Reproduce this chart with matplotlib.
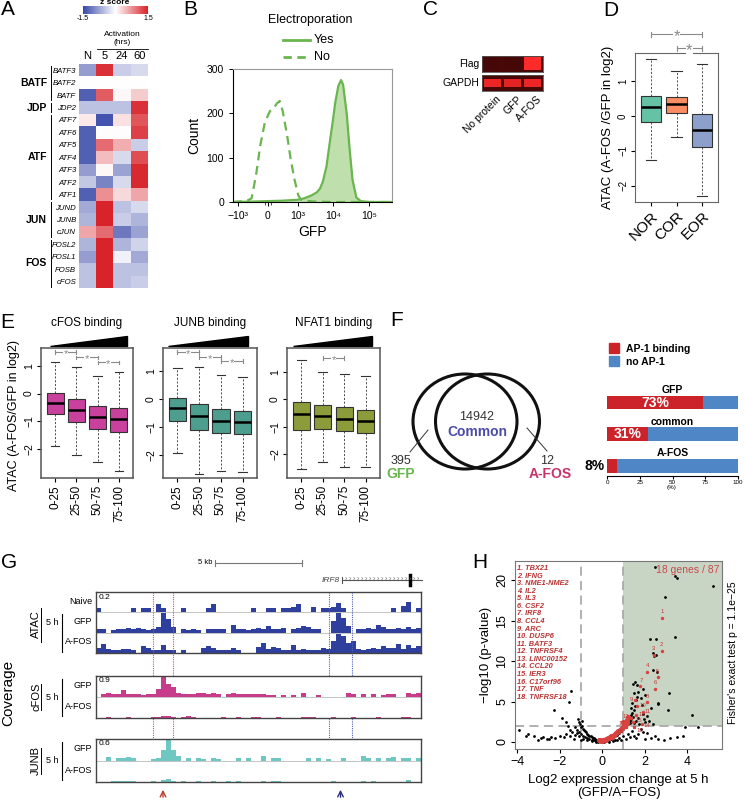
import numpy as np
import matplotlib
matplotlib.use('Agg')
import matplotlib.pyplot as plt
from matplotlib.colors import LinearSegmentedColormap
from matplotlib.lines import Line2D
from matplotlib.patches import Ellipse, Rectangle, Patch, Polygon
from matplotlib import transforms

plt.rcParams['font.family'] = ['Liberation Sans', 'DejaVu Sans']
plt.rcParams['axes.linewidth'] = 0.8

# ======================= DATA =======================
# A: heatmap of z scores
a_genes = ['BATF3', 'BATF2', 'BATF', 'JDP2', 'ATF7', 'ATF6', 'ATF5', 'ATF4', 'ATF3',
           'ATF2', 'ATF1', 'JUND', 'JUNB', 'cJUN', 'FOSL2', 'FOSL1', 'FOSB', 'cFOS']
a_groups = ['BATF', 'JDP', 'ATF', 'JUN', 'FOS']
a_group_sizes = [3, 1, 7, 3, 4]
a_times = ['N', '5', '24', '60']
a_z = [[-0.8, 1.4, -0.4, -0.3],
       [0.0, 0.0, 0.0, 0.0],
       [-1.3, 1.1, 0.05, 0.35],
       [-0.5, -0.5, -0.5, 1.4],
       [0.15, -1.4, 0.2, 1.15],
       [-1.3, 0.02, 0.02, 1.3],
       [-1.3, 1.0, 0.55, -0.4],
       [-1.3, 0.45, -0.3, 1.2],
       [-0.8, 0.05, -0.75, 1.45],
       [-0.45, -1.0, -0.3, 1.45],
       [-1.3, 0.75, 0.25, 0.6],
       [-0.7, 1.5, -0.5, -0.3],
       [-0.6, 1.5, -0.4, -0.6],
       [0.6, 1.0, -1.1, -0.75],
       [-0.6, 1.5, -0.6, -0.35],
       [-0.8, 1.5, -0.1, -0.7],
       [-0.5, 1.5, -0.5, -0.5],
       [-0.5, 1.5, -0.5, -0.4]]

# B: flow histogram
b_no_x = [-1400, -1000, -700, -550, -400, -250, -100, 70, 200, 300, 400, 500, 650, 760,
          900, 1050, 1250, 1600, 3000, 10000, 450000]
b_no_y = [0, 1, 3, 8, 60, 130, 180, 205, 212, 222, 228, 205, 150, 100, 50, 15, 5, 3, 1, 0, 0]
b_yes_x = [-1400, -500, 0, 500, 1000, 1500, 2500, 3500, 4250, 5100, 6500, 7900, 9500,
           11500, 14000, 16700, 19000, 24000, 29000, 35000, 45000, 60000, 100000, 450000]
b_yes_y = [0, 1, 2, 3, 5, 8, 15, 22, 30, 45, 80, 130, 175, 225, 262, 275, 265, 200, 120,
           50, 10, 2, 0, 0]

# C: western blot intensities
c_lanes = ['No protein', 'GFP', 'A-FOS']
c_flag = [0.06, 0.06, 1.0]
c_gapdh = [0.9, 0.85, 0.9]

# D: boxplot stats
d_groups = ['NOR', 'COR', 'EOR']
d_lo = [-1.27, -0.6, -2.3]
d_q1 = [-0.17, 0.09, -0.89]
d_med = [0.26, 0.33, -0.41]
d_q3 = [0.57, 0.55, 0.05]
d_hi = [1.63, 1.28, 1.48]
d_colors = ['#66c2a5', '#fc8d62', '#8da0cb']

# E: boxplot stats for three binding panels
e_bins = ['0-25', '25-50', '50-75', '75-100']
e_titles = ['cFOS binding', 'JUNB binding', 'NFAT1 binding']
e_cfos_lo = [-1.9, -2.22, -2.46, -2.8]
e_cfos_q1 = [-0.75, -1.02, -1.26, -1.38]
e_cfos_med = [-0.35, -0.58, -0.85, -0.9]
e_cfos_q3 = [0.01, -0.19, -0.46, -0.52]
e_cfos_hi = [1.15, 0.95, 0.64, 0.76]
e_junb_lo = [-1.92, -2.67, -2.57, -2.62]
e_junb_q1 = [-0.77, -1.11, -1.2, -1.25]
e_junb_med = [-0.33, -0.61, -0.77, -0.81]
e_junb_q3 = [0.02, -0.18, -0.37, -0.43]
e_junb_hi = [1.12, 1.14, 0.85, 0.77]
e_nfat_lo = [-2.52, -2.29, -2.46, -2.45]
e_nfat_q1 = [-1.1, -1.08, -1.17, -1.23]
e_nfat_med = [-0.54, -0.6, -0.72, -0.78]
e_nfat_q3 = [-0.1, -0.21, -0.3, -0.39]
e_nfat_hi = [1.42, 1.0, 0.93, 0.85]

# F: venn counts and AP-1 fractions
f_gfp_only = 395
f_common = 14942
f_afos_only = 12
f_sets = ['GFP', 'common', 'A-FOS']
f_ap1 = [73, 31, 8]
f_noap1 = [27, 69, 92]

# G: coverage tracks (65 bins across the locus)
g_atac_naive = [0.04, 0, 0, 0, 0, 0, 0, 0.04, 0, 0.04,
                0.04, 0, 0.09, 0.05, 0, 0, 0, 0.04, 0, 0,
                0, 0, 0.05, 0.09, 0, 0, 0, 0, 0, 0,
                0, 0.04, 0, 0, 0.04, 0.04, 0, 0.04, 0.04, 0.06,
                0.09, 0, 0, 0.06, 0, 0.05, 0.04, 0.06, 0.10, 0.05,
                0, 0, 0, 0, 0, 0, 0, 0, 0, 0.04,
                0, 0.07, 0.11, 0, 0.04]
g_atac_gfp = [0.04, 0.04, 0, 0.03, 0.04, 0.04, 0.05, 0.04, 0.05, 0.04,
              0.03, 0.04, 0.06, 0.20, 0.14, 0.06, 0, 0.04, 0.03, 0.04,
              0.03, 0, 0.04, 0.04, 0.04, 0.04, 0, 0.08, 0.04, 0.04,
              0.03, 0.04, 0.05, 0.04, 0.07, 0.04, 0.04, 0.05, 0, 0.04,
              0.05, 0.07, 0.06, 0.04, 0.04, 0, 0, 0.12, 0.20, 0.15,
              0.07, 0, 0.04, 0.04, 0.05, 0.04, 0.08, 0.06, 0.04, 0.04,
              0.05, 0.04, 0.06, 0.04, 0.05]
g_atac_afos = [0.05, 0.09, 0.04, 0.03, 0.03, 0.04, 0.04, 0.03, 0, 0.07,
               0.05, 0.03, 0.03, 0.08, 0.03, 0.03, 0, 0.03, 0, 0,
               0, 0.05, 0.07, 0.05, 0.03, 0.03, 0.03, 0.05, 0.03, 0,
               0, 0, 0.06, 0.10, 0.04, 0.06, 0.05, 0.03, 0.03, 0.08,
               0.03, 0.04, 0.03, 0.03, 0.03, 0.05, 0.04, 0.12, 0.20, 0.18,
               0.10, 0.12, 0.04, 0.03, 0.04, 0.05, 0.04, 0.07, 0.05, 0.05,
               0.09, 0.04, 0.08, 0.05, 0.07]
g_cfos_gfp = [0, 0.12, 0.18, 0.12, 0.12, 0.30, 0.15, 0.12, 0.12, 0.10,
              0.12, 0.15, 0.35, 0.90, 0.60, 0.45, 0.20, 0.13, 0.13, 0.15,
              0.18, 0.20, 0.15, 0.20, 0.15, 0, 0.12, 0.18, 0.12, 0.12,
              0.12, 0.12, 0.12, 0.12, 0.10, 0.10, 0, 0.10, 0, 0.10,
              0, 0.20, 0, 0, 0.10, 0, 0, 0, 0, 0,
              0.18, 0.15, 0, 0.12, 0, 0.12, 0, 0.10, 0.15, 0.12,
              0, 0, 0.20, 0.15, 0.20]
g_cfos_afos = {2: 0.05, 6: 0.05, 11: 0.05, 12: 0.06, 13: 0.10, 14: 0.09, 15: 0.06,
               17: 0.06, 18: 0.07, 19: 0.05, 25: 0.04, 28: 0.05, 31: 0.05, 32: 0.04,
               36: 0.05, 41: 0.04, 42: 0.04, 43: 0.04, 47: 0.05, 51: 0.04, 56: 0.06,
               61: 0.04, 62: 0.04}
g_junb_gfp = {2: 0.10, 4: 0.06, 5: 0.06, 6: 0.10, 7: 0.06, 11: 0.05, 12: 0.07, 13: 0.30,
              14: 0.60, 15: 0.30, 16: 0.12, 18: 0.06, 20: 0.06, 21: 0.05, 23: 0.06,
              24: 0.05, 28: 0.06, 30: 0.06, 33: 0.12, 35: 0.06, 36: 0.06, 42: 0.06,
              44: 0.06, 46: 0.05, 49: 0.06, 53: 0.12, 54: 0.07, 56: 0.06, 58: 0.06,
              59: 0.10, 61: 0.06, 62: 0.06, 64: 0.06}
g_junb_afos = {3: 0.03, 4: 0.03, 5: 0.03, 6: 0.03, 7: 0.03, 11: 0.03, 13: 0.05, 14: 0.10,
               15: 0.04, 17: 0.03, 20: 0.03, 23: 0.03, 26: 0.03, 28: 0.03, 33: 0.03,
               35: 0.03, 36: 0.03, 47: 0.03, 53: 0.03, 55: 0.03, 62: 0.05}
g_scales = [0.2, 0.9, 0.6]
g_red_region = [11.4, 15.4]
g_blue_region = [46.6, 51.2]

# H: volcano
h_black = [(2.48, 21.6), (3.42, 20.5), (3.5, 20.3), (5.23, 19.3), (2.95, 17.9),
           (3.44, 13.0), (2.24, 12.8), (2.53, 12.8), (2.37, 11.0), (2.53, 10.8),
           (2.45, 10.6), (2.56, 8.6), (2.38, 8.9), (3.14, 6.1), (2.6, 4.8), (2.63, 4.7),
           (3.08, 4.0), (4.2, 3.3), (4.52, 1.9), (3.9, 1.85), (-1.49, 6.35), (-1.55, 5.0),
           (-2.28, 3.9),
           (-0.1, 0.1), (-0.2, 0.15), (-0.3, 0.3), (-0.4, 0.45), (-0.5, 0.6), (-0.6, 0.8),
           (-0.7, 1.0), (-0.8, 1.3), (-0.9, 1.6), (-1.0, 1.9), (-1.05, 2.2), (-1.1, 2.5),
           (-0.95, 2.0), (-0.85, 1.5), (-0.75, 1.2), (-0.65, 0.9), (-0.55, 0.7),
           (-0.45, 0.5), (-0.35, 0.35), (-0.25, 0.2), (-0.2, 0.05), (-0.3, 0.1),
           (-0.4, 0.2), (-0.5, 0.3), (-0.6, 0.4), (-0.7, 0.5), (-0.8, 0.6), (-0.9, 0.8),
           (-1.0, 1.0), (-1.1, 1.2), (-1.2, 1.5), (-1.3, 1.8), (-1.2, 1.1), (-1.3, 0.9),
           (-1.4, 1.2), (-1.5, 1.5), (-1.6, 2.0), (-1.7, 2.5), (-1.9, 3.0), (-1.1, 0.7),
           (-0.9, 0.4), (-0.7, 0.25), (-0.5, 0.15), (-0.3, 0.05), (-1.5, 0.8),
           (-1.7, 1.0), (-2.0, 0.7), (-2.2, 0.5), (-2.4, 0.6), (-2.6, 0.4), (-2.8, 0.6),
           (-3.0, 0.3), (-3.2, 0.7), (-3.5, 1.0), (-3.6, 0.8), (-3.9, 1.5), (-2.9, 0.5),
           (-2.5, 0.4), (-1.8, 0.6), (-1.35, 0.4), (-1.0, 0.3), (-1.15, 2.8), (-0.95, 2.6),
           (0.1, 0.05), (0.2, 0.1), (0.3, 0.2), (0.4, 0.35), (0.5, 0.5), (0.6, 0.7),
           (0.7, 0.9), (0.8, 1.1), (0.9, 1.35), (1.0, 1.6), (1.1, 1.9), (1.2, 2.2),
           (1.3, 2.6), (1.25, 3.0), (1.35, 3.3), (1.2, 2.8), (1.4, 3.6), (0.3, 0.05),
           (0.5, 0.1), (0.7, 0.2), (0.9, 0.3), (1.1, 0.4), (1.3, 0.6), (1.5, 0.8),
           (1.7, 1.0), (1.9, 1.2), (2.1, 1.1), (1.6, 0.5), (2.0, 0.4), (2.3, 0.5),
           (2.6, 0.4), (2.9, 0.3), (3.2, 0.5), (3.5, 0.6), (3.8, 0.7), (2.5, 0.8),
           (1.8, 1.6), (1.5, 1.9), (1.4, 1.3), (1.2, 1.0), (1.0, 0.7), (0.8, 0.5),
           (0.6, 0.3), (1.3, 2.3), (1.35, 2.8), (1.45, 3.1), (1.5, 3.9), (1.55, 4.4),
           (1.6, 5.2), (1.65, 5.6), (1.5, 6.0), (1.45, 7.2), (1.55, 7.4), (1.62, 7.0),
           (1.7, 6.2), (1.8, 5.4), (1.85, 4.6), (1.9, 3.5), (1.95, 2.9), (2.0, 2.5),
           (1.75, 2.2), (1.6, 2.6), (1.4, 4.8), (1.35, 4.2), (2.1, 3.2), (2.2, 2.6),
           (2.3, 4.2), (1.7, 3.0), (1.5, 2.4), (2.4, 2.2), (2.0, 5.8), (1.9, 6.6)]
h_red = [(0.0, 0.1), (0.05, 0.2), (0.1, 0.25), (0.15, 0.3), (0.2, 0.4), (0.3, 0.5),
         (0.35, 0.6), (0.4, 0.7), (0.5, 0.8), (0.55, 0.9), (0.6, 1.0), (0.7, 1.2),
         (0.75, 1.3), (0.8, 1.4), (0.9, 1.6), (0.95, 1.7), (1.0, 1.9), (1.05, 2.0),
         (1.1, 2.2), (1.0, 2.5), (1.15, 2.7), (1.2, 3.1), (-0.05, 0.15), (-0.1, 0.2),
         (-0.15, 0.3), (0.25, 0.45), (0.45, 0.65), (0.65, 1.05), (0.85, 1.45)]
h_num_x = [2.83, 2.8, 2.45, 2.12, 2.6, 2.5, 1.77, 2.12, 1.55, 1.65, 1.9, 1.6, 1.35,
           1.85, 1.45, 1.5, 1.2, 1.1]
h_num_y = [15.4, 11.3, 10.8, 8.7, 8.0, 6.6, 6.9, 4.9, 5.2, 4.5, 3.7, 3.4, 3.0, 2.2,
           2.5, 1.8, 2.4, 1.9]
h_genes = ['TBX21', 'IFNG', 'NME1-NME2', 'IL2', 'IL3', 'CSF2', 'IRF8', 'CCL4', 'ARC',
           'DUSP6', 'BATF3', 'TNFRSF4', 'LINC00152', 'CCL20', 'IER3', 'C17orf96', 'TNF',
           'TNFRSF18']

# ======================= FIGURE =======================
W, H = 744, 800
fig = plt.figure(figsize=(7.44, 8.0), dpi=100)
fig.patch.set_facecolor('white')


def pax(x0, y0, x1, y1):
    return fig.add_axes([x0 / W, 1 - y1 / H, (x1 - x0) / W, (y1 - y0) / H])


def ftext(x, y, s, **kw):
    return fig.text(x / W, 1 - y / H, s, **kw)


def fline(xs, ys, **kw):
    fig.add_artist(Line2D([x / W for x in xs], [1 - y / H for y in ys], **kw))


def sig(ax, x1, x2, y, tick, size, color='#8a8a8a', dy=0.0):
    ax.plot([x1, x2], [y, y], color=color, lw=0.8, clip_on=False)
    ax.plot([x1, x1], [y - tick, y + tick], color=color, lw=0.8, clip_on=False)
    ax.plot([x2, x2], [y - tick, y + tick], color=color, lw=0.8, clip_on=False)
    ax.text((x1 + x2) / 2, y + dy, '*', ha='center', va='center', size=size, color=color,
            bbox=dict(fc='white', ec='none', pad=0.2), clip_on=False)


def boxes(ax, lo, q1, med, q3, hi, color):
    n = len(med)
    stats = [dict(whislo=lo[i], q1=q1[i], med=med[i], q3=q3[i], whishi=hi[i], label='')
             for i in range(n)]
    res = ax.bxp(stats, positions=list(range(1, n + 1)), widths=0.8, patch_artist=True,
                 showfliers=False,
                 boxprops=dict(facecolor=color, edgecolor='#333333', linewidth=0.8),
                 medianprops=dict(color='black', linewidth=1.8),
                 whiskerprops=dict(color='#333333', linewidth=0.6, linestyle=(0, (2.5, 2))),
                 capprops=dict(color='#333333', linewidth=0.8), capwidths=0.4)
    return res


LET = dict(size=15, va='top', ha='left')

# ---------------- Panel A ----------------
ftext(1, 0, 'A', **LET)
cmapA = LinearSegmentedColormap.from_list('zs', ['#3848a8', '#ffffff', '#d8232a'])
axA = pax(79, 64, 148, 288)
imA = axA.imshow(np.array(a_z), cmap=cmapA, vmin=-1.5, vmax=1.5, aspect='auto',
                 interpolation='nearest')
axA.set_xticks(range(len(a_times)))
axA.set_xticklabels(a_times, fontsize=8)
axA.xaxis.tick_top()
axA.set_yticks(range(len(a_genes)))
axA.set_yticklabels(a_genes, fontsize=5.6, style='italic')
axA.tick_params(length=0, pad=2)
for s in axA.spines.values():
    s.set_visible(False)
row_h = (288 - 64) / len(a_genes)
start = 0
for g, n in zip(a_groups, a_group_sizes):
    y0 = 64 + start * row_h + 1.5
    y1 = 64 + (start + n) * row_h - 1.5
    fline([51, 51], [y0, y1], color='black', lw=0.7)
    ftext(47, (y0 + y1) / 2, g, ha='right', va='center', size=7.5, weight='bold')
    start += n
caxA = pax(83, 6, 148, 14)
cb = fig.colorbar(imA, cax=caxA, orientation='horizontal')
cb.set_ticks([-1.5, 1.5])
cb.set_ticklabels(['-1.5', '1.5'])
cb.ax.tick_params(labelsize=5, length=0, pad=1)
cb.outline.set_visible(False)
ftext(115, -1, 'z score', ha='center', va='top', size=6, weight='bold')
ftext(122, 34, 'Activation', ha='center', va='center', size=6)
ftext(122, 43, '(hrs)', ha='center', va='center', size=6)
fline([97, 148], [49, 49], color='black', lw=0.6)

# ---------------- Panel B ----------------
ftext(183, 0, 'B', **LET)
green = '#6ab54f'
axB = pax(233, 69, 392, 202)
axB.set_xscale('symlog', linthresh=1000, linscale=0.75)
axB.fill_between(b_yes_x, b_yes_y, color='#bfe0ad', lw=0)
axB.plot(b_yes_x, b_yes_y, color=green, lw=1.6)
axB.plot(b_no_x, b_no_y, color=green, lw=1.6, ls=(0, (4, 2.5)))
axB.set_xlim(-1400, 4.5e5)
axB.set_ylim(0, 300)
axB.set_yticks([0, 100, 200, 300])
axB.set_xticks([-1000, 0, 1000, 10000, 100000])
axB.set_xticklabels(['−10³', '0', '10³', '10⁴', '10⁵'])
axB.tick_params(labelsize=7.5, length=3, width=0.7)
axB.tick_params(which='minor', length=2, width=0.5)
for k in ['top', 'right']:
    axB.spines[k].set_color('#999999')
axB.set_ylabel('Count', fontsize=10, labelpad=4)
axB.set_xlabel('GFP', fontsize=10, labelpad=3)
ftext(268, 20, 'Electroporation', size=9, va='center')
fline([283, 310], [40, 40], color=green, lw=2.0)
ftext(314, 40, 'Yes', size=9, va='center')
fline([283, 310], [57, 57], color=green, lw=2.0, ls=(0, (3, 2)))
ftext(314, 57, 'No', size=9, va='center')

# ---------------- Panel C ----------------
ftext(423, 0, 'C', **LET)
cmapC = LinearSegmentedColormap.from_list('blot', ['#3a0505', '#ff2a2a'])
for (y0, y1), vals, name, bh in [((56, 72), c_flag, 'Flag', (0.12, 0.8)),
                                 ((75, 91), c_gapdh, 'GAPDH', (0.22, 0.56))]:
    axc = pax(482, y0, 543, y1)
    axc.set_facecolor(cmapC(0.08))
    axc.bar(range(3), [bh[1]] * 3, bottom=bh[0], width=0.82,
            color=[cmapC(v) for v in vals])
    axc.set_xlim(-0.5, 2.5)
    axc.set_ylim(0, 1)
    axc.set_xticks([])
    axc.set_yticks([])
    for s in axc.spines.values():
        s.set_color('#555555')
        s.set_linewidth(0.6)
    ftext(479, (y0 + y1) / 2, name, ha='right', va='center', size=7.5)
for i, lab in enumerate(c_lanes):
    ftext(496 + i * 20.5, 94, lab, ha='right', va='top', rotation=45,
          rotation_mode='anchor', size=7.5)

# ---------------- Panel D ----------------
ftext(603, 1, 'D', **LET)
axD = pax(635, 53, 718, 202)
resD = boxes(axD, d_lo, d_q1, d_med, d_q3, d_hi, 'white')
for p, c in zip(resD['boxes'], d_colors):
    p.set_facecolor(c)
axD.set_xlim(0.38, 3.62)
axD.set_ylim(-2.46, 1.8)
axD.set_yticks([-2, -1, 0, 1])
axD.set_yticklabels(['−2', '−1', '0', '1'], rotation=90, va='center')
axD.set_xticks([1, 2, 3])
axD.set_xticklabels(d_groups, rotation=45, ha='right', va='top', rotation_mode='anchor',
                    fontsize=11)
axD.tick_params(axis='y', labelsize=7, length=3, pad=2)
axD.tick_params(axis='x', length=3, pad=2)
for s in axD.spines.values():
    s.set_color('#666666')
axD.set_ylabel('ATAC (A-FOS /GFP in log2)', fontsize=9.5, labelpad=3)
sig(axD, 1, 3, 2.34, 0.07, 12, dy=-0.08)
sig(axD, 2, 3, 1.94, 0.07, 12, dy=-0.08)

# ---------------- Panel E ----------------
ftext(0, 313, 'E', **LET)
e_data = [(e_cfos_lo, e_cfos_q1, e_cfos_med, e_cfos_q3, e_cfos_hi),
          (e_junb_lo, e_junb_q1, e_junb_med, e_junb_q3, e_junb_hi),
          (e_nfat_lo, e_nfat_q1, e_nfat_med, e_nfat_q3, e_nfat_hi)]
e_colors = ['#c9419c', '#4d9e8f', '#8c9c3b']
e_xpos = [(41, 133), (163, 257), (287, 380)]
e_ylims = [(-3.04, 1.64), (-2.82, 1.82), (-2.86, 1.86)]
e_sig = [[(1, 2, 1.5), (2, 3, 1.3), (3, 4, 1.12)],
         [(1, 2, 1.68), (2, 3, 1.5), (3, 4, 1.36)],
         [(2, 3, 1.5)]]
e_tri = [(0.1, 0.935), (0.05, 0.9), (0.065, 0.914)]
for k in range(3):
    x0, x1 = e_xpos[k]
    ax = pax(x0, 348, x1, 478)
    lo, q1, med, q3, hi = e_data[k]
    boxes(ax, lo, q1, med, q3, hi, e_colors[k])
    ax.set_xlim(0.34, 4.66)
    ax.set_ylim(*e_ylims[k])
    ax.set_yticks([-2, -1, 0, 1])
    ax.set_yticklabels(['−2', '−1', '0', '1'], rotation=90, va='center')
    ax.set_xticks([1, 2, 3, 4])
    ax.set_xticklabels(e_bins, rotation=90, fontsize=8.5)
    ax.tick_params(axis='y', labelsize=7.5, length=3, pad=2)
    ax.tick_params(axis='x', length=3, pad=2)
    for s in ax.spines.values():
        s.set_color('#555555')
        s.set_linewidth(1.1)
    for (a, b, y) in e_sig[k]:
        sig(ax, a, b, y, 0.06, 8, dy=-0.07)
    t0, t1 = e_tri[k]
    ax.add_patch(Polygon([[t0, 1.012], [t1, 1.012], [t1, 1.09]], closed=True,
                         transform=ax.transAxes, clip_on=False, fc='black', ec='black'))
    ftext((x0 + x1) / 2, 323, e_titles[k], ha='center', va='center', size=8.5)
ftext(14, 415, 'ATAC (A-FOS/GFP in log2)', rotation=90, ha='center', va='center', size=9)

# ---------------- Panel F ----------------
ftext(390, 311, 'F', **LET)
axV = pax(385, 360, 575, 482)
axV.set_xlim(385, 575)
axV.set_ylim(482, 360)
axV.axis('off')
axV.add_patch(Ellipse((465, 421.5), 104, 95, fill=False, lw=2.2, ec='#111111'))
axV.add_patch(Ellipse((487.5, 421.5), 104, 95, fill=False, lw=2.2, ec='#111111'))
axV.text(477, 417, str(f_common), ha='center', va='center', size=9, color='#333333')
axV.text(477, 432, 'Common', ha='center', va='center', size=10, weight='bold',
         color='#4b4ba8')
axV.plot([428, 410], [430, 452], color='#333333', lw=0.7)
axV.plot([527, 547], [428, 451], color='#333333', lw=0.7)
axV.text(401, 461, str(f_gfp_only), ha='center', va='center', size=9, color='#333333')
axV.text(401, 474, 'GFP', ha='center', va='center', size=10, weight='bold', color='#6ab54f')
axV.text(547, 461, str(f_afos_only), ha='center', va='center', size=9, color='#333333')
axV.text(550, 474, 'A-FOS', ha='center', va='center', size=10, weight='bold',
         color='#c8336b')

red_f, blue_f = '#cc2229', '#4f86c6'
axF = pax(607, 385, 738, 476)
axF.barh(range(3), f_ap1, height=0.44, color=red_f)
axF.barh(range(3), f_noap1, left=f_ap1, height=0.44, color=blue_f)
axF.set_xlim(0, 100)
axF.set_ylim(2.33, -0.556)
axF.set_yticks([])
axF.set_xticks([0, 25, 50, 75, 100])
axF.tick_params(axis='x', labelsize=4.5, length=2, pad=1)
for k in ['top', 'right', 'left']:
    axF.spines[k].set_visible(False)
for i, name in enumerate(f_sets):
    axF.text(50, i - 0.39, name, ha='center', va='center', size=7.5, weight='bold')
    if f_ap1[i] > 20:
        axF.text(f_ap1[i] / 2, i, f'{f_ap1[i]}%', ha='center', va='center', size=10,
                 weight='bold', color='white')
    else:
        axF.text(-1.5, i, f'{f_ap1[i]}%', ha='right', va='center', size=10, weight='bold')
ftext(672, 488, '(%)', ha='center', va='center', size=4.5)
fig.legend(handles=[Patch(color=red_f), Patch(color=blue_f)],
           labels=['AP-1 binding', 'no AP-1'], loc='upper left',
           bbox_to_anchor=(609 / W, 1 - 343 / H), frameon=False,
           prop=dict(size=7.5, weight='bold'), handlelength=1.0, handleheight=1.1,
           handletextpad=0.6, labelspacing=0.25, borderpad=0, borderaxespad=0)

# ---------------- Panel G ----------------
ftext(1, 553, 'G', **LET)
nb = len(g_atac_naive)


def dense(v):
    arr = np.zeros(nb)
    if isinstance(v, dict):
        for k2, val in v.items():
            arr[k2] = val
    else:
        arr[:len(v)] = v
    return arr


g_specs = [((592, 653), [g_atac_naive, g_atac_gfp, g_atac_afos], '#2f3f9e', g_scales[0],
            ['Naive', 'GFP', 'A-FOS'], 'ATAC'),
           ((676, 718), [g_cfos_gfp, g_cfos_afos], '#c83c8c', g_scales[1],
            ['GFP', 'A-FOS'], 'cFOS'),
           ((739, 782), [g_junb_gfp, g_junb_afos], '#6fc7c2', g_scales[2],
            ['GFP', 'A-FOS'], 'JUNB')]
g_axes = []
for (y0, y1), tracks, col, scale, labels, name in g_specs:
    ax = pax(96, y0, 421, y1)
    g_axes.append(ax)
    nt = len(tracks)
    for j, tr in enumerate(tracks):
        off = nt - 1 - j
        vals = dense(tr)
        ax.bar(np.arange(nb) + 0.5, vals / scale * 0.95, bottom=off, width=1.0, color=col,
               lw=0)
        if off > 0:
            ax.axhline(off, color='#bbbbbb', lw=0.6, zorder=0)
    ax.axhline(0.02, color='#bbbbbb', lw=0.6, zorder=0)
    ax.set_xlim(0, nb)
    ax.set_ylim(0, nt)
    ax.set_xticks([])
    ax.set_yticks([])
    for s in ax.spines.values():
        s.set_color('#444444')
        s.set_linewidth(1.0)
    ax.text(0.008, 0.97, str(scale), transform=ax.transAxes, ha='left', va='top', size=6)
    th = (y1 - y0) / nt
    for j, lab in enumerate(labels):
        ftext(92, y0 + th * (j + 0.45), lab, ha='right', va='center', size=6.5)
    if nt == 3:
        ftext(52, y0 + th * 2 - 0.5 * th, '5 h', ha='center', va='center', size=6.5)
        fline([62, 62], [y0 + th * 1.1, y1 - 1], color='black', lw=0.8)
        ftext(36, y0 + th * 1.6, name, rotation=90, ha='center', va='center', size=8)
        fline([41, 41], [y0 + th * 0.8, y0 + th * 2.45], color='black', lw=0.7)
    else:
        ftext(52, (y0 + y1) / 2, '5 h', ha='center', va='center', size=6.5)
        fline([62, 62], [y0 + 3, y1 - 2], color='black', lw=0.8)
        ftext(36, (y0 + y1) / 2, name, rotation=90, ha='center', va='center', size=8)
        fline([41, 41], [(y0 + y1) / 2 - 13, (y0 + y1) / 2 + 13], color='black', lw=0.7)
ftext(8, 693, 'Coverage', rotation=90, ha='center', va='center', size=11)
trG = transforms.blended_transform_factory(g_axes[0].transData, fig.transFigure)
for b in g_red_region:
    g_axes[0].plot([b, b], [1 - 592 / H, 1 - 782 / H], transform=trG, color='#d9534f',
                   lw=0.8, ls=(0, (1, 1)), clip_on=False)
for b in g_blue_region:
    g_axes[0].plot([b, b], [1 - 592 / H, 1 - 782 / H], transform=trG, color='#5060b8',
                   lw=0.8, ls=(0, (1, 1)), clip_on=False)
g_axes[0].annotate('', xy=(np.mean(g_red_region), 1 - 787 / H),
                   xytext=(np.mean(g_red_region), 1 - 800 / H), xycoords=trG, textcoords=trG,
                   arrowprops=dict(arrowstyle='->', color='#c0392b', lw=1.0))
g_axes[0].annotate('', xy=(np.mean(g_blue_region), 1 - 787 / H),
                   xytext=(np.mean(g_blue_region), 1 - 800 / H), xycoords=trG,
                   textcoords=trG, arrowprops=dict(arrowstyle='->', color='#2c2c80', lw=1.0))
# scale bar and gene model
ftext(212, 563, '5 kb', ha='right', va='center', size=5.5)
fline([215, 302], [563, 563], color='#777777', lw=0.8)
fline([215, 215], [560, 566], color='#777777', lw=0.8)
fline([302, 302], [560, 566], color='#777777', lw=0.8)
ftext(340, 580, 'IRF8', ha='right', va='center', size=6, style='italic', color='#444444')
fline([342, 422], [580, 580], color='#555555', lw=0.8)
fline([342, 342], [577, 583], color='#555555', lw=0.8)
for xa in range(346, 421, 4):
    ftext(xa, 580, '›', ha='center', va='center', size=5, color='#666666')
fline([410, 410], [575, 585], color='black', lw=2.5)

# ---------------- Panel H ----------------
ftext(472, 553, 'H', **LET)
axH = pax(515, 561, 722, 749)
axH.set_xlim(-4.1, 5.63)
axH.set_ylim(-0.87, 22.4)
axH.add_patch(Rectangle((1, 2), 10, 30, facecolor='#c9d5c4', edgecolor='none', zorder=0))
for xv in (-1, 1):
    axH.axvline(xv, color='#aaaaaa', ls=(0, (5, 3)), lw=1.3, zorder=1)
axH.axhline(2, color='#aaaaaa', ls=(0, (5, 3)), lw=1.3, zorder=1)
axH.scatter([p[0] for p in h_black], [p[1] for p in h_black], s=4, c='black', lw=0,
            zorder=2)
axH.scatter([p[0] for p in h_red], [p[1] for p in h_red], s=14, c='#d9423e', lw=0,
            zorder=3)
axH.scatter(h_num_x, h_num_y, s=6, c='#d9423e', lw=0, zorder=4)
# label placement (offset in data units, alignment)
lab_pos = [(0, 0.45, 'center'), (0, 0.45, 'center'), (-0.05, 0.45, 'center'),
           (0, 0.45, 'center'), (0, 0.45, 'center'), (0, 0.45, 'center'),
           (0.05, 0.45, 'center'), (0, 0.45, 'center'), (-0.1, 0.0, 'right'),
           (0.1, 0.0, 'left'), (0.1, 0.1, 'left'), (0.1, 0.0, 'left'),
           (-0.1, 0.1, 'right'), (0.1, -0.1, 'left'), (0.1, 0.1, 'left'),
           (0.1, -0.35, 'left'), (-0.1, -0.15, 'right'), (-0.1, -0.6, 'right')]
for i, (xn, yn) in enumerate(zip(h_num_x, h_num_y)):
    dx, dy, ha = lab_pos[i]
    va = 'bottom' if ha == 'center' else 'center'
    axH.text(xn + dx, yn + dy, str(i + 1), ha=ha, va=va, size=4.3,
             color='#c03a3a', zorder=5)
axH.set_xticks([-4, -2, 0, 2, 4])
axH.set_yticks([0, 5, 10, 15, 20])
axH.set_yticklabels(['0', '5', '10', '15', '20'], rotation=90, va='center')
axH.tick_params(labelsize=9, length=3, pad=2)
for s in axH.spines.values():
    s.set_color('#777777')
axH.set_ylabel('−log10 (p-value)', fontsize=9.5, labelpad=3)
axH.set_xlabel('Log2 expression change at 5 h\n(GFP/A−FOS)', fontsize=9.5, labelpad=4)
for i, g in enumerate(h_genes):
    axH.text(0.012, 0.978 - i * 0.0402, f'{i + 1}. {g}', transform=axH.transAxes,
             ha='left', va='top', size=5.3, style='italic', weight='bold', color='#b83232')
axH.text(0.985, 0.978, '18 genes / 87', transform=axH.transAxes, ha='right', va='top',
         size=7.5, color='#c84a4a')
ftext(733, 653, "Fisher's exact test p = 1.1e−25", rotation=90, ha='center', va='center',
      size=7.5)

fig.savefig('out.png', dpi=100)
